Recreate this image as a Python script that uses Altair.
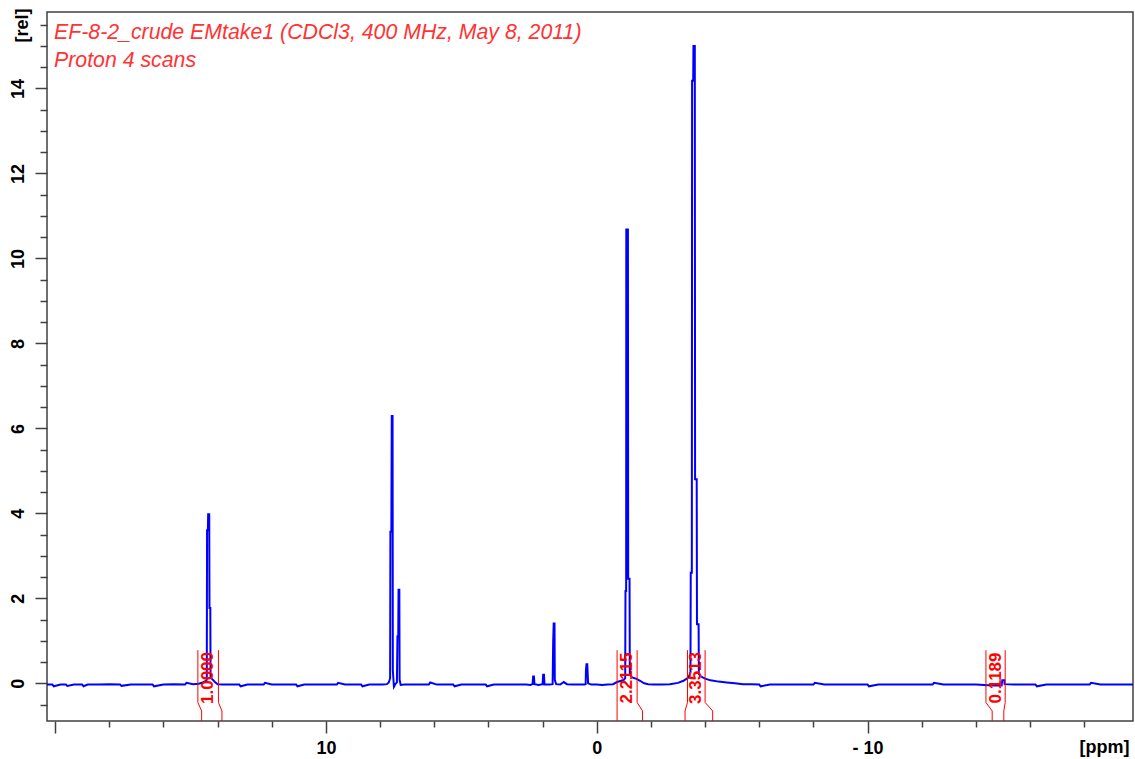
import altair as alt
import pandas as pd

# ---- spectrum (chemical shift in ppm, relative intensity) ----
ppm = [20.30, 20.1, 20.05, 19.8, 19.6, 19.55, 19.3, 19.0, 18.95, 18.8, 18.4, 18.0, 17.6, 17.55, 17.2,
       16.8, 16.4, 16.35, 16.0, 15.6, 15.2, 15.15, 14.9, 14.7, 14.55, 14.45,
       14.40, 14.39, 14.36, 14.35, 14.31, 14.30, 14.27, 14.26, 14.2, 14.1, 14.0,
       13.8, 13.5, 13.2, 13.15, 12.9, 12.6, 12.3, 12.25, 12.0, 11.7, 11.4, 11.1, 11.05, 10.8, 10.5,
       10.2, 9.9, 9.6, 9.55, 9.3, 9.0, 8.7, 8.65, 8.4, 8.1, 7.9, 7.75, 7.68,
       7.63, 7.62, 7.585, 7.57, 7.54, 7.53, 7.49, 7.44, 7.38, 7.36, 7.33, 7.32, 7.29, 7.28, 7.24,
       7.1, 6.8, 6.5, 6.2, 6.15, 5.9, 5.6, 5.3, 5.25, 5.0, 4.7, 4.4, 4.1, 4.05, 3.8, 3.5, 3.2,
       2.9, 2.6, 2.45,
       2.37, 2.35, 2.32, 2.30, 2.15, 2.00, 1.98, 1.95, 1.93, 1.75,
       1.63, 1.61, 1.59, 1.56, 1.55, 1.50, 1.35, 1.22, 1.1, 0.9, 0.6, 0.45,
       0.41, 0.40, 0.38, 0.35, 0.34, 0.32, 0.2, 0.0, -0.2, -0.4, -0.6, -0.75, -0.9, -1.0,
       -1.05, -1.06, -1.085, -1.09, -1.15, -1.16, -1.21, -1.22, -1.3, -1.45, -1.6, -1.75,
       -1.9, -2.1, -2.4, -2.7, -3.0, -3.2, -3.35, -3.42,
       -3.46, -3.47, -3.51, -3.52, -3.56, -3.57, -3.62, -3.63, -3.69, -3.70, -3.76, -3.77,
       -3.85, -4.0, -4.2, -4.5, -4.8, -5.1, -5.4, -5.7, -6.0, -6.05, -6.4, -6.8, -7.2, -7.6,
       -8.0, -8.05, -8.4, -8.8, -9.2, -9.6, -10.0, -10.05, -10.4, -10.8, -11.2, -11.6, -12.0,
       -12.4, -12.45, -12.8, -13.2, -13.6, -14.0, -14.3, -14.6, -14.9, -14.95, -14.97, -15.05,
       -15.06, -15.4, -15.8, -16.2, -16.25, -16.6, -17.0, -17.4, -17.8, -18.2, -18.25, -18.6,
       -19.0, -19.4, -19.8]
rel = [-0.03, -0.03, -0.07, -0.03, -0.03, -0.06, -0.03, -0.03, -0.07, -0.03, -0.03, -0.02, -0.03, -0.06, -0.03,
       -0.03, -0.03, -0.07, -0.03, -0.02, -0.03, 0.01, -0.02, -0.01, 0.02, 0.05,
       0.08, 3.6, 3.6, 3.98, 3.98, 1.77, 1.77, 0.15, 0.1, 0.03, -0.02,
       -0.03, -0.03, -0.03, -0.07, -0.03, -0.03, -0.03, 0.01, -0.03, -0.03, -0.03, -0.03, -0.07, -0.03, -0.03,
       -0.03, -0.03, -0.03, 0.01, -0.03, -0.03, -0.03, -0.07, -0.03, -0.03, -0.03, -0.02, 0.02,
       0.12, 3.57, 3.57, 6.29, 6.29, 0.3, -0.08, -0.02, 0.02, 1.1, 1.1, 2.2, 2.2, 0.08, -0.04,
       -0.03, -0.03, -0.03, -0.03, 0.02, -0.03, -0.03, -0.03, -0.07, -0.03, -0.03, -0.03, -0.03, -0.07, -0.03, -0.03, -0.03,
       -0.03, -0.03, -0.04,
       -0.02, 0.16, 0.16, -0.02, -0.04, -0.02, 0.2, 0.2, -0.03, -0.03,
       -0.02, 0.98, 1.41, 1.41, 0.08, -0.02, -0.03, 0.03, -0.02, -0.03, -0.03, -0.03,
       -0.02, 0.3, 0.45, 0.45, 0.3, 0.0, -0.03, -0.03, -0.04, -0.03, -0.02, 0.03, 0.06, 0.08,
       0.12, 2.17, 2.17, 10.68, 10.68, 2.46, 2.46, 0.25, 0.14, 0.11, 0.06, 0.0,
       -0.02, -0.03, -0.03, -0.02, 0.01, 0.06, 0.12, 0.18,
       0.25, 2.6, 2.6, 14.18, 14.18, 15.0, 15.0, 4.8, 4.8, 1.39, 1.39, 0.22,
       0.16, 0.11, 0.07, 0.04, 0.02, 0.0, -0.02, -0.02, -0.03, -0.07, -0.03, -0.03, -0.03, -0.03,
       -0.03, 0.01, -0.03, -0.03, -0.03, -0.03, -0.03, -0.07, -0.03, -0.03, -0.03, -0.03, -0.03,
       -0.03, 0.01, -0.03, -0.03, -0.03, -0.03, -0.04, -0.05, -0.05, -0.05, 0.07, 0.07,
       -0.02, -0.03, -0.03, -0.03, -0.07, -0.03, -0.03, -0.03, -0.03, -0.03, 0.01, -0.03,
       -0.03, -0.03, -0.03]

# ---- integral regions (ppm limits at top and at foot of bracket) ----
int_labels = ["1.0000", "2.2115", "3.3513", "0.1189"]
int_top_left = [14.73, -0.75, -3.35, -14.37]
int_top_right = [13.97, -1.49, -4.00, -15.08]
int_foot_left = [14.59, -0.75, -3.26, -14.60]
int_foot_right = [13.84, -1.69, -4.28, -15.03]
bracket_levels = [0.78, -0.45, -0.65, -0.887]   # rel units: top, kink start, kink end, foot
label_level = 0.125

title_line1 = "EF-8-2_crude EMtake1 (CDCl3, 400 MHz, May 8, 2011)"
title_line2 = "Proton 4 scans"

x_ticks = [20, 18, 16, 14, 12, 10, 8, 6, 4, 2, 0, -2, -4, -6, -8, -10, -12, -14, -16, -18]
y_ticks = [v / 2 for v in range(-1, 32)]

# ---------------- build tables ----------------
spec_df = pd.DataFrame({"ppm": ppm, "rel": rel, "idx": range(len(ppm))})

rows = []
for i, lab in enumerate(int_labels):
    for side, xt, xf in (("L", int_top_left[i], int_foot_left[i]), ("R", int_top_right[i], int_foot_right[i])):
        xs = [xt, xt, xf, xf]
        for k, (xx, yy) in enumerate(zip(xs, bracket_levels)):
            rows.append({"seg": f"{i}{side}", "k": k, "ppm": xx, "rel": yy})
br_df = pd.DataFrame(rows)

lab_df = pd.DataFrame({
    "ppm": [(a + b) / 2 for a, b in zip(int_top_left, int_top_right)],
    "rel": [label_level] * len(int_labels),
    "label": int_labels,
})

FONT = "Liberation Sans"
xscale = alt.Scale(domain=[20.3, -19.8], nice=False, zero=False)
yscale = alt.Scale(domain=[-0.887, 15.8], nice=False, zero=False)

x_axis = alt.Axis(
    values=x_ticks, grid=False, domain=False,
    tickSize={"condition": {"test": "datum.value % 10 === 0", "value": 12}, "value": 6},
    tickColor="#404040", tickWidth=1.5,
    labelExpr="datum.value === 10 ? '10' : datum.value === 0 ? '0' : datum.value === -10 ? '- 10' : ''",
    labelFont=FONT, labelFontSize=18, labelFontWeight="bold", labelColor="black",
    labelBaseline="top", labelPadding=6, labelFlush=False, labelOverlap=False,
    title="[ppm]", titleFont=FONT, titleFontSize=18, titleFontWeight="bold", titleColor="black",
    titleX=1057, titleY=26, titleAlign="center", titleBaseline="middle",
)
y_axis = alt.Axis(
    values=y_ticks, grid=False, domain=False,
    tickSize={"condition": {"test": "datum.value % 2 === 0", "value": 12}, "value": 7},
    tickColor="#404040", tickWidth=1.5,
    labelExpr="datum.value % 2 === 0 ? '' + datum.value : ''",
    labelAngle=270, labelAlign="center", labelBaseline="bottom",
    labelFont=FONT, labelFontSize=18, labelFontWeight="bold", labelColor="black",
    labelPadding=8, labelFlush=False, labelOverlap=False,
    title="[rel]", titleFont=FONT, titleFontSize=18, titleFontWeight="bold", titleColor="black",
    titleAngle=270, titleX=-25, titleY=13, titleAlign="center", titleBaseline="middle",
)

X = alt.X("ppm:Q", scale=xscale, axis=x_axis)
Y = alt.Y("rel:Q", scale=yscale, axis=y_axis)

spectrum = alt.Chart(spec_df).mark_line(color="#0000ff", strokeWidth=2.0, clip=True).encode(
    x=X, y=Y, order="idx:Q",
)

brackets = alt.Chart(br_df).mark_line(color="#ff0000", strokeWidth=1, clip=True).encode(
    x=X, y=Y, detail="seg:N", order="k:Q",
)

int_text = alt.Chart(lab_df).mark_text(
    angle=270, align="center", baseline="middle", font=FONT, fontSize=17,
    fontWeight="bold", color="#ff0000",
).encode(x=X, y=Y, text="label:N")

t1 = alt.Chart(pd.DataFrame({"t": [title_line1]})).mark_text(
    align="left", baseline="alphabetic", font=FONT, fontSize=21.3, fontStyle="italic", color="#ff3333",
).encode(x=alt.value(7), y=alt.value(27), text="t:N")
t2 = alt.Chart(pd.DataFrame({"t": [title_line2]})).mark_text(
    align="left", baseline="alphabetic", font=FONT, fontSize=21.3, fontStyle="italic", color="#ff3333",
).encode(x=alt.value(7), y=alt.value(55), text="t:N")

chart = alt.layer(spectrum, brackets, int_text, t1, t2).properties(
    width=1086, height=709,
    autosize=alt.AutoSizeParams(type="none"),
    padding={"left": 47, "top": 12, "right": 2, "bottom": 38},
    background="white",
).configure_view(stroke="#404040", strokeWidth=1.5)

chart.save("out.html", embed_options={"renderer": "svg", "actions": False})
